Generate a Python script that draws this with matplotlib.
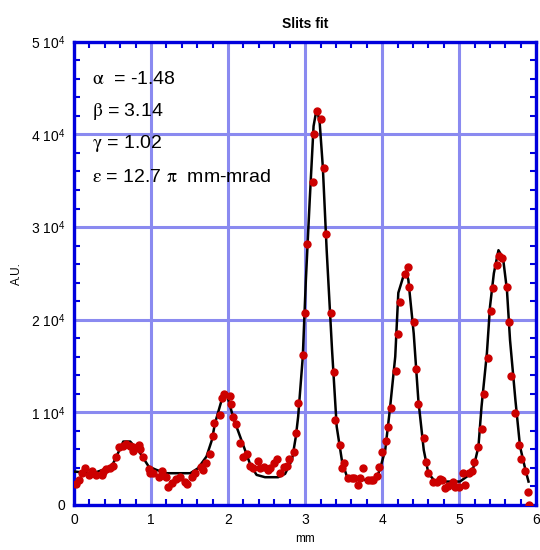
import numpy as np
import matplotlib
matplotlib.use("Agg")
import matplotlib.pyplot as plt
from matplotlib.ticker import MultipleLocator, FuncFormatter

plt.rcParams['font.family'] = ['Liberation Sans', 'DejaVu Sans']
plt.rcParams['mathtext.fontset'] = 'stix'

# measured slit profile (mm, A.U.)
x_meas = [0.02, 0.06, 0.11, 0.14, 0.19, 0.24, 0.29, 0.36, 0.38, 0.42, 0.47, 0.51, 0.54,
          0.59, 0.64, 0.68, 0.73, 0.77, 0.77, 0.84, 0.86, 0.89, 0.97, 0.99, 1.03, 1.10,
          1.14, 1.19, 1.22, 1.27, 1.32, 1.38, 1.44, 1.47, 1.53, 1.57, 1.65, 1.68, 1.71,
          1.77, 1.80, 1.82, 1.89, 1.92, 1.95, 2.02, 2.04, 2.07, 2.10, 2.16, 2.19, 2.25,
          2.29, 2.33, 2.39, 2.42, 2.47, 2.52, 2.55, 2.60, 2.64, 2.68, 2.73, 2.76, 2.79,
          2.85, 2.88, 2.91, 2.97, 3.00, 3.03, 3.10, 3.12, 3.15, 3.21, 3.24, 3.27, 3.33,
          3.37, 3.39, 3.45, 3.48, 3.51, 3.56, 3.61, 3.64, 3.69, 3.71, 3.75, 3.81, 3.85,
          3.88, 3.93, 3.96, 4.00, 4.05, 4.08, 4.11, 4.18, 4.20, 4.23, 4.30, 4.33, 4.35,
          4.42, 4.44, 4.47, 4.54, 4.57, 4.60, 4.66, 4.71, 4.75, 4.78, 4.82, 4.86, 4.92,
          4.95, 5.00, 5.05, 5.08, 5.13, 5.16, 5.19, 5.25, 5.29, 5.32, 5.37, 5.41, 5.44,
          5.49, 5.52, 5.56, 5.62, 5.65, 5.67, 5.73, 5.77, 5.80, 5.85, 5.89, 5.91]
y_meas = [2240, 2700, 3420, 3960, 3240, 3700, 3240, 3240, 3600, 3860, 3960, 4200, 5200,
          6200, 6370, 6550, 6370, 6300, 5830, 6480, 6000, 5200, 3860, 3420, 3420, 3060,
          3670, 3060, 1980, 2340, 2780, 2990, 2520, 2230, 2990, 3420, 4140, 3780, 4500,
          5470, 7450, 8890, 9720, 11500, 12000, 11800, 10900, 9470, 8700, 6730, 5220, 5470,
          4210, 4030, 4750, 3960, 4070, 3780, 4030, 4500, 4930, 3420, 4070, 4210, 4930,
          5760, 7740, 10950, 16200, 20700, 28200, 34900, 40000, 42500, 41700, 36400, 29200, 20700,
          14400, 9180, 6480, 3960, 4500, 2950, 2950, 2880, 2160, 2950, 3960, 2700, 2700,
          2700, 3170, 4140, 5690, 6910, 8460, 10440, 14470, 18430, 21950, 24900, 25700, 23500,
          19700, 14700, 10900, 7200, 4680, 3490, 2450, 2450, 2780, 2700, 1870, 2050, 2450,
          1980, 1910, 3490, 2160, 3490, 3700, 4680, 6200, 8170, 11950, 15900, 20950, 23470,
          25900, 26900, 26700, 23500, 19700, 13900, 9970, 6480, 4930, 3670, 1440, 0]

# fitted curve
x_fit = [0.00, 0.25, 0.45, 0.51, 0.60, 0.64, 0.73, 0.86, 0.97, 1.07, 1.20, 1.51, 1.61,
         1.72, 1.79, 1.83, 1.93, 1.98, 2.07, 2.18, 2.29, 2.37, 2.48, 2.65, 2.74, 2.83,
         2.88, 2.91, 2.97, 3.01, 3.06, 3.11, 3.14, 3.17, 3.19, 3.23, 3.28, 3.35, 3.41,
         3.48, 3.54, 3.63, 3.91, 3.97, 4.04, 4.10, 4.17, 4.21, 4.28, 4.31, 4.34, 4.41,
         4.47, 4.54, 4.60, 4.67, 4.75, 5.01, 5.10, 5.19, 5.25, 5.29, 5.36, 5.40, 5.45,
         5.51, 5.57, 5.62, 5.66, 5.73, 5.79, 5.86, 5.90]
y_fit = [3600, 3420, 4000, 4500, 6100, 6840, 6840, 5580, 4140, 3780, 3420, 3420, 3960,
         5220, 7000, 8800, 11700, 12060, 9360, 6840, 4320, 3240, 2990, 2990, 3350, 4860,
         7380, 9540, 16000, 24300, 32900, 40900, 42300, 42100, 41200, 36500, 27500, 16700, 8460,
         4680, 3130, 2700, 2700, 3780, 5940, 10260, 16000, 22900, 24800, 25200, 24300, 18500,
         11300, 5940, 3420, 2700, 2520, 2520, 3060, 4140, 6300, 10600, 16400, 21400, 25000,
         27500, 26600, 23200, 17800, 11300, 6300, 3780, 2520]

params = [r"$\mathrm{\alpha}$  = -1.48", r"$\mathrm{\beta}$ = 3.14", r"$\mathrm{\gamma}$ = 1.02",
          r"$\mathrm{\varepsilon}$ = 12.7 $\mathrm{\pi}$  mm-mrad"]

fig = plt.figure(figsize=(5.4, 5.5), dpi=100)
ax = fig.add_axes([0.137, 0.082, 0.856, 0.842])

ax.plot(x_fit, y_fit, color='black', lw=1.8, zorder=3)
ax.plot(x_meas, y_meas, 'o', color='#cc0000', ms=5, mec='#cc0000', zorder=4)

ax.set_xlim(0, 6)
ax.set_ylim(0, 50000)
ax.xaxis.set_major_locator(MultipleLocator(1))
ax.xaxis.set_minor_locator(MultipleLocator(0.2))
ax.yaxis.set_major_locator(MultipleLocator(10000))
ax.yaxis.set_minor_locator(MultipleLocator(2000))

def yfmt(v, pos):
    if v == 0:
        return "0"
    return r"%d 10$^{\mathregular{4}}$" % round(v / 10000)

ax.yaxis.set_major_formatter(FuncFormatter(yfmt))
ax.grid(True, which='major', color='#8a8af0', lw=2.2, zorder=1)
ax.set_axisbelow(True)

for s in ax.spines.values():
    s.set_color('#0000dd')
    s.set_linewidth(2.4)
ax.tick_params(which='both', direction='in', top=True, right=True,
               color='#0000dd', labelsize=10, pad=6)
ax.tick_params(which='major', length=0, width=2)
ax.tick_params(which='minor', length=4, width=1.5)

ax.set_title("Slits fit", fontsize=10, fontweight='bold', pad=10)
ax.set_xlabel("mm", fontsize=8.5)
ax.set_ylabel("A.U.", fontsize=8.5, labelpad=6)

ys = [0.918, 0.849, 0.780, 0.708]
for t, yy in zip(params, ys):
    ax.text(0.04, yy, t, transform=ax.transAxes, fontsize=14,
            va='center', ha='left')

fig.savefig("out.png", dpi=100)
